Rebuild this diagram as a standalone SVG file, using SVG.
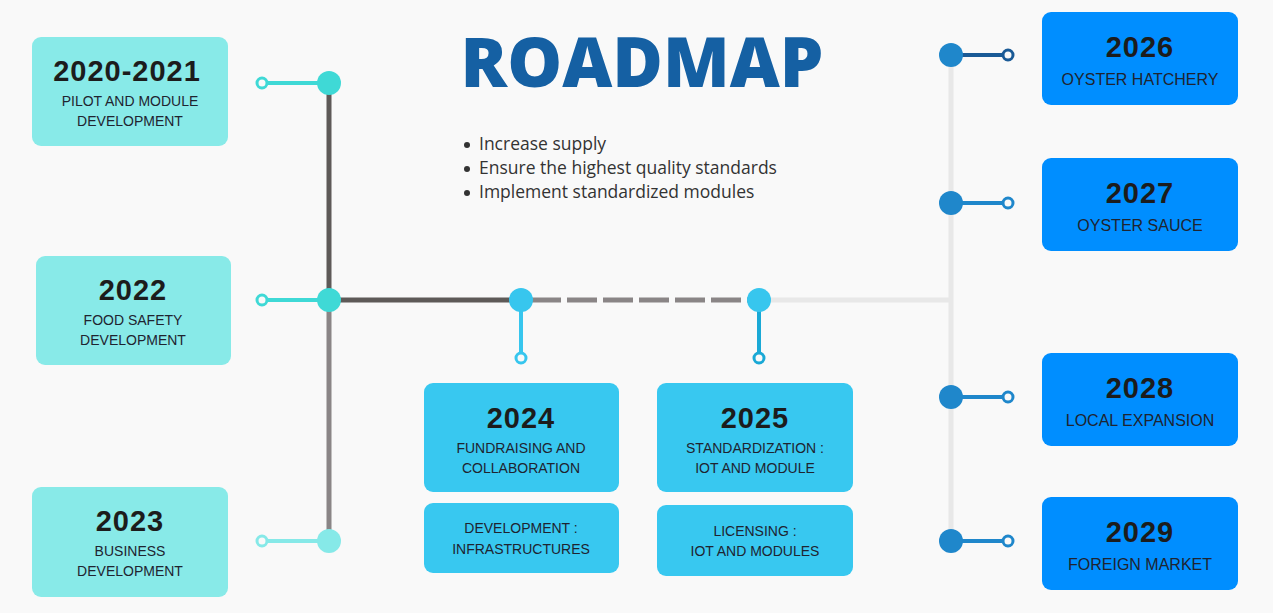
<svg xmlns="http://www.w3.org/2000/svg" width="1273" height="613" viewBox="0 0 1273 613">
<style>
.yr{font-family:"Liberation Sans",Arial,sans-serif;font-weight:bold;font-size:29px;fill:#1c1c1c;text-anchor:middle;letter-spacing:1px}
.sub{font-family:"Liberation Sans",Arial,sans-serif;font-size:14px;fill:#1f2430;text-anchor:middle}
.sub2{font-family:"Liberation Sans",Arial,sans-serif;font-size:16px;fill:#1f2430;text-anchor:middle}
.bl{font-family:"Open Sans","Liberation Sans",sans-serif;font-size:17.5px;fill:#333}
.teal{fill:#88eae8}
.cyan{fill:#38c8f0}
.blue{fill:#008eff}
.ring{fill:#f9f9f9;stroke-width:3}
</style>
<rect width="1273" height="613" fill="#f9f9f9"/>
<g id="connectors" fill="none">
<line x1="329" y1="83" x2="329" y2="300" stroke="#5e5a58" stroke-width="5"/>
<line x1="329" y1="300" x2="329" y2="541" stroke="#8a8586" stroke-width="5"/>
<line x1="329" y1="300" x2="521" y2="300" stroke="#5e5a58" stroke-width="5"/>
<line x1="531" y1="300" x2="759" y2="300" stroke="#8a8586" stroke-width="5" stroke-dasharray="30,6"/>
<line x1="759" y1="300" x2="951" y2="300" stroke="#e8e8e8" stroke-width="5"/>
<line x1="951" y1="55" x2="951" y2="541" stroke="#e8e8e8" stroke-width="5"/>
<line x1="262" y1="83" x2="329" y2="83" stroke="#3fd9d6" stroke-width="4"/>
<line x1="262" y1="300" x2="329" y2="300" stroke="#3fd9d6" stroke-width="4"/>
<line x1="262" y1="541" x2="329" y2="541" stroke="#86e9e8" stroke-width="4"/>
<line x1="521" y1="300" x2="521" y2="358" stroke="#37c6ee" stroke-width="4"/>
<line x1="759" y1="300" x2="759" y2="358" stroke="#1aa9d6" stroke-width="4"/>
<line x1="951" y1="55" x2="1008" y2="55" stroke="#1a5a96" stroke-width="4"/>
<line x1="951" y1="203" x2="1008" y2="203" stroke="#1f87cb" stroke-width="4"/>
<line x1="951" y1="397" x2="1008" y2="397" stroke="#1f87cb" stroke-width="4"/>
<line x1="951" y1="541" x2="1008" y2="541" stroke="#1f87cb" stroke-width="4"/>
<circle cx="329" cy="83" r="12" fill="#3fd9d6"/>
<circle cx="329" cy="300" r="12" fill="#3fd9d6"/>
<circle cx="329" cy="541" r="12" fill="#86e9e8"/>
<circle cx="262" cy="83" r="5" class="ring" stroke="#3fd9d6"/>
<circle cx="262" cy="300" r="5" class="ring" stroke="#3fd9d6"/>
<circle cx="262" cy="541" r="5" class="ring" stroke="#86e9e8"/>
<circle cx="521" cy="300" r="12" fill="#37c6ee"/>
<circle cx="759" cy="300" r="12" fill="#37c6ee"/>
<circle cx="521" cy="358" r="5" class="ring" stroke="#37c6ee"/>
<circle cx="759" cy="358" r="5" class="ring" stroke="#1aa9d6"/>
<circle cx="951" cy="55" r="12" fill="#1f87cb"/>
<circle cx="951" cy="203" r="12" fill="#1f87cb"/>
<circle cx="951" cy="397" r="12" fill="#1f87cb"/>
<circle cx="951" cy="541" r="12" fill="#1f87cb"/>
<circle cx="1008" cy="55" r="5" class="ring" stroke="#1a5a96"/>
<circle cx="1008" cy="203" r="5" class="ring" stroke="#1f87cb"/>
<circle cx="1008" cy="397" r="5" class="ring" stroke="#1f87cb"/>
<circle cx="1008" cy="541" r="5" class="ring" stroke="#1f87cb"/>
</g>
<g id="title">
<text x="642" y="87" text-anchor="middle" font-family="'Open Sans','Liberation Sans',sans-serif" font-weight="800" font-size="69" fill="#1560a3">ROADMAP</text>
</g>
<g id="bullets">
<circle cx="467" cy="145" r="3" fill="#333"/>
<circle cx="467" cy="169" r="3" fill="#333"/>
<circle cx="467" cy="193" r="3" fill="#333"/>
<text class="bl" x="479" y="150">Increase supply</text>
<text class="bl" x="479" y="174">Ensure the highest quality standards</text>
<text class="bl" x="479" y="198">Implement standardized modules</text>
</g>
<g id="n2020">
<rect x="32" y="37" width="196" height="109" rx="9" class="teal"/>
<text class="yr" x="127" y="81">2020-2021</text>
<text class="sub" x="130" y="106">PILOT AND MODULE</text>
<text class="sub" x="130" y="126">DEVELOPMENT</text>
</g>
<g id="n2022">
<rect x="36" y="256" width="195" height="109" rx="9" class="teal"/>
<text class="yr" x="133" y="300">2022</text>
<text class="sub" x="133" y="325">FOOD SAFETY</text>
<text class="sub" x="133" y="345">DEVELOPMENT</text>
</g>
<g id="n2023">
<rect x="32" y="487" width="196" height="110" rx="9" class="teal"/>
<text class="yr" x="130" y="531">2023</text>
<text class="sub" x="130" y="556">BUSINESS</text>
<text class="sub" x="130" y="576">DEVELOPMENT</text>
</g>
<g id="n2024">
<rect x="424" y="383" width="195" height="109" rx="9" class="cyan"/>
<text class="yr" x="521" y="428">2024</text>
<text class="sub" x="521" y="453">FUNDRAISING AND</text>
<text class="sub" x="521" y="473">COLLABORATION</text>
</g>
<g id="n2024b">
<rect x="424" y="503" width="195" height="70" rx="9" class="cyan"/>
<text class="sub" x="521" y="533">DEVELOPMENT :</text>
<text class="sub" x="521" y="554">INFRASTRUCTURES</text>
</g>
<g id="n2025">
<rect x="657" y="383" width="196" height="109" rx="9" class="cyan"/>
<text class="yr" x="755" y="428">2025</text>
<text class="sub" x="755" y="453">STANDARDIZATION :</text>
<text class="sub" x="755" y="473">IOT AND MODULE</text>
</g>
<g id="n2025b">
<rect x="657" y="505" width="196" height="71" rx="9" class="cyan"/>
<text class="sub" x="755" y="536">LICENSING :</text>
<text class="sub" x="755" y="556">IOT AND MODULES</text>
</g>
<g id="n2026">
<rect x="1042" y="12" width="196" height="93" rx="9" class="blue"/>
<text class="yr" x="1140" y="57">2026</text>
<text class="sub2" x="1140" y="85">OYSTER HATCHERY</text>
</g>
<g id="n2027">
<rect x="1042" y="158" width="196" height="93" rx="9" class="blue"/>
<text class="yr" x="1140" y="203">2027</text>
<text class="sub2" x="1140" y="231">OYSTER SAUCE</text>
</g>
<g id="n2028">
<rect x="1042" y="353" width="196" height="93" rx="9" class="blue"/>
<text class="yr" x="1140" y="398">2028</text>
<text class="sub2" x="1140" y="426">LOCAL EXPANSION</text>
</g>
<g id="n2029">
<rect x="1042" y="497" width="196" height="93" rx="9" class="blue"/>
<text class="yr" x="1140" y="542">2029</text>
<text class="sub2" x="1140" y="570">FOREIGN MARKET</text>
</g>
</svg>
